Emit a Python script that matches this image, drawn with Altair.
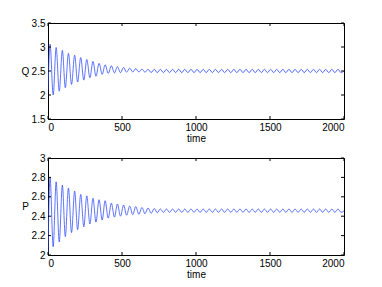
import altair as alt
import pandas as pd

# extrema times (peaks / troughs)
times = [0, 14, 35, 55, 76, 97, 117, 138, 159, 180,
         200, 221, 242, 262, 283, 304, 324, 345, 366, 386,
         407, 428, 449, 469, 490, 511, 531, 552, 573, 593,
         614, 635, 655, 676, 697, 718, 738, 759, 780, 800,
         821, 842, 862, 883, 904, 924, 945, 966, 987, 1007,
         1028, 1049, 1069, 1090, 1111, 1131, 1152, 1173, 1193, 1214,
         1235, 1256, 1276, 1297, 1318, 1338, 1359, 1380, 1400, 1421,
         1442, 1462, 1483, 1504, 1525, 1545, 1566, 1587, 1607, 1628,
         1649, 1669, 1690, 1711, 1731, 1752, 1773, 1794, 1814, 1835,
         1856, 1876, 1897, 1918, 1938, 1959, 1980, 2000]

Q = [2.10, 3.06, 2.00, 2.99, 2.08, 2.93, 2.15, 2.87, 2.22, 2.83,
     2.27, 2.78, 2.31, 2.74, 2.36, 2.70, 2.39, 2.66, 2.43, 2.63,
     2.45, 2.61, 2.46, 2.59, 2.465, 2.575, 2.475, 2.56, 2.48, 2.55,
     2.48, 2.54, 2.475, 2.535, 2.468, 2.535, 2.466, 2.535, 2.466, 2.535,
     2.466, 2.535, 2.466, 2.535, 2.466, 2.535, 2.466, 2.535, 2.466, 2.535,
     2.466, 2.535, 2.466, 2.535, 2.466, 2.535, 2.466, 2.535, 2.466, 2.535,
     2.466, 2.535, 2.466, 2.535, 2.466, 2.535, 2.466, 2.535, 2.466, 2.535,
     2.466, 2.535, 2.466, 2.535, 2.466, 2.535, 2.466, 2.535, 2.466, 2.535,
     2.466, 2.535, 2.466, 2.535, 2.466, 2.535, 2.466, 2.535, 2.466, 2.535,
     2.466, 2.535, 2.466, 2.535, 2.466, 2.535, 2.466, 2.50]

P = [2.02, 2.80, 2.085, 2.755, 2.135, 2.72, 2.19, 2.69, 2.23, 2.66,
     2.26, 2.625, 2.29, 2.61, 2.32, 2.585, 2.34, 2.57, 2.36, 2.56,
     2.38, 2.535, 2.39, 2.525, 2.40, 2.515, 2.41, 2.505, 2.415, 2.50,
     2.42, 2.49, 2.425, 2.485, 2.43, 2.48, 2.435, 2.475, 2.44, 2.474,
     2.44, 2.474, 2.44, 2.474, 2.44, 2.474, 2.44, 2.474, 2.44, 2.474,
     2.44, 2.474, 2.44, 2.474, 2.44, 2.474, 2.44, 2.474, 2.44, 2.474,
     2.44, 2.474, 2.44, 2.474, 2.44, 2.474, 2.44, 2.474, 2.44, 2.474,
     2.44, 2.474, 2.44, 2.474, 2.44, 2.474, 2.44, 2.474, 2.44, 2.474,
     2.44, 2.474, 2.44, 2.474, 2.44, 2.474, 2.44, 2.474, 2.44, 2.474,
     2.44, 2.474, 2.44, 2.474, 2.44, 2.474, 2.44, 2.455]

x_ticks = [0, 500, 1000, 1500, 2000]
q_ticks = [1.5, 2, 2.5, 3, 3.5]
p_ticks = [2, 2.2, 2.4, 2.6, 2.8, 3]

W = 296
FONT = "Liberation Sans"
LINE_COLOR = "#3550ff"
TICK = 3


def panel(field, values, ydomain, yticks, h):
    df = pd.DataFrame({"time": times, field: values})
    xdef = alt.X(
        "time:Q",
        scale=alt.Scale(domain=[0, 2000], nice=False, zero=False),
        axis=alt.Axis(values=x_ticks, tickSize=0, domain=False, grid=False,
                      labelExpr="'' + datum.value", labelPadding=3,
                      title="time", titleY=19, titleBaseline="middle",
                      titleFontWeight="normal"),
    )
    ydef = alt.Y(
        f"{field}:Q",
        scale=alt.Scale(domain=ydomain, nice=False, zero=False),
        axis=alt.Axis(values=yticks, tickSize=0, domain=False, grid=False,
                      labelExpr="'' + datum.value", labelPadding=3,
                      title=field, titleAngle=0, titleX=-23, titleY=h / 2,
                      titleAlign="center", titleBaseline="middle",
                      titleFontWeight="normal"),
    )
    line = alt.Chart(df).mark_line(
        interpolate="monotone", color=LINE_COLOR, strokeWidth=0.8, clip=True
    ).encode(x=xdef, y=ydef)

    xt = pd.DataFrame({"time": x_ticks})
    yt = pd.DataFrame({field: yticks})
    xb = alt.Chart(xt).mark_rule(color="black", strokeWidth=1).encode(
        x=xdef, y=alt.value(h), y2=alt.value(h - TICK))
    xtop = alt.Chart(xt).mark_rule(color="black", strokeWidth=1).encode(
        x=xdef, y=alt.value(0), y2=alt.value(TICK))
    yl = alt.Chart(yt).mark_rule(color="black", strokeWidth=1).encode(
        y=ydef, x=alt.value(0), x2=alt.value(TICK))
    yr = alt.Chart(yt).mark_rule(color="black", strokeWidth=1).encode(
        y=ydef, x=alt.value(W), x2=alt.value(W - TICK))
    return alt.layer(line, xb, xtop, yl, yr).properties(width=W, height=h)


top = panel("Q", Q, [1.5, 3.5], q_ticks, 96)
bottom = panel("P", P, [2, 3], p_ticks, 97)

chart = alt.vconcat(top, bottom, spacing=39, bounds="flush").properties(
    padding={"left": 12, "top": 9, "right": 5, "bottom": 0},
).configure(
    font=FONT,
    background="white",
).configure_view(
    stroke="black", strokeWidth=1
).configure_axis(
    labelFont=FONT, titleFont=FONT, labelFontSize=10, titleFontSize=10,
    labelColor="black", titleColor="black",
)

chart.save("out.html", embed_options={"renderer": "svg", "actions": False})
